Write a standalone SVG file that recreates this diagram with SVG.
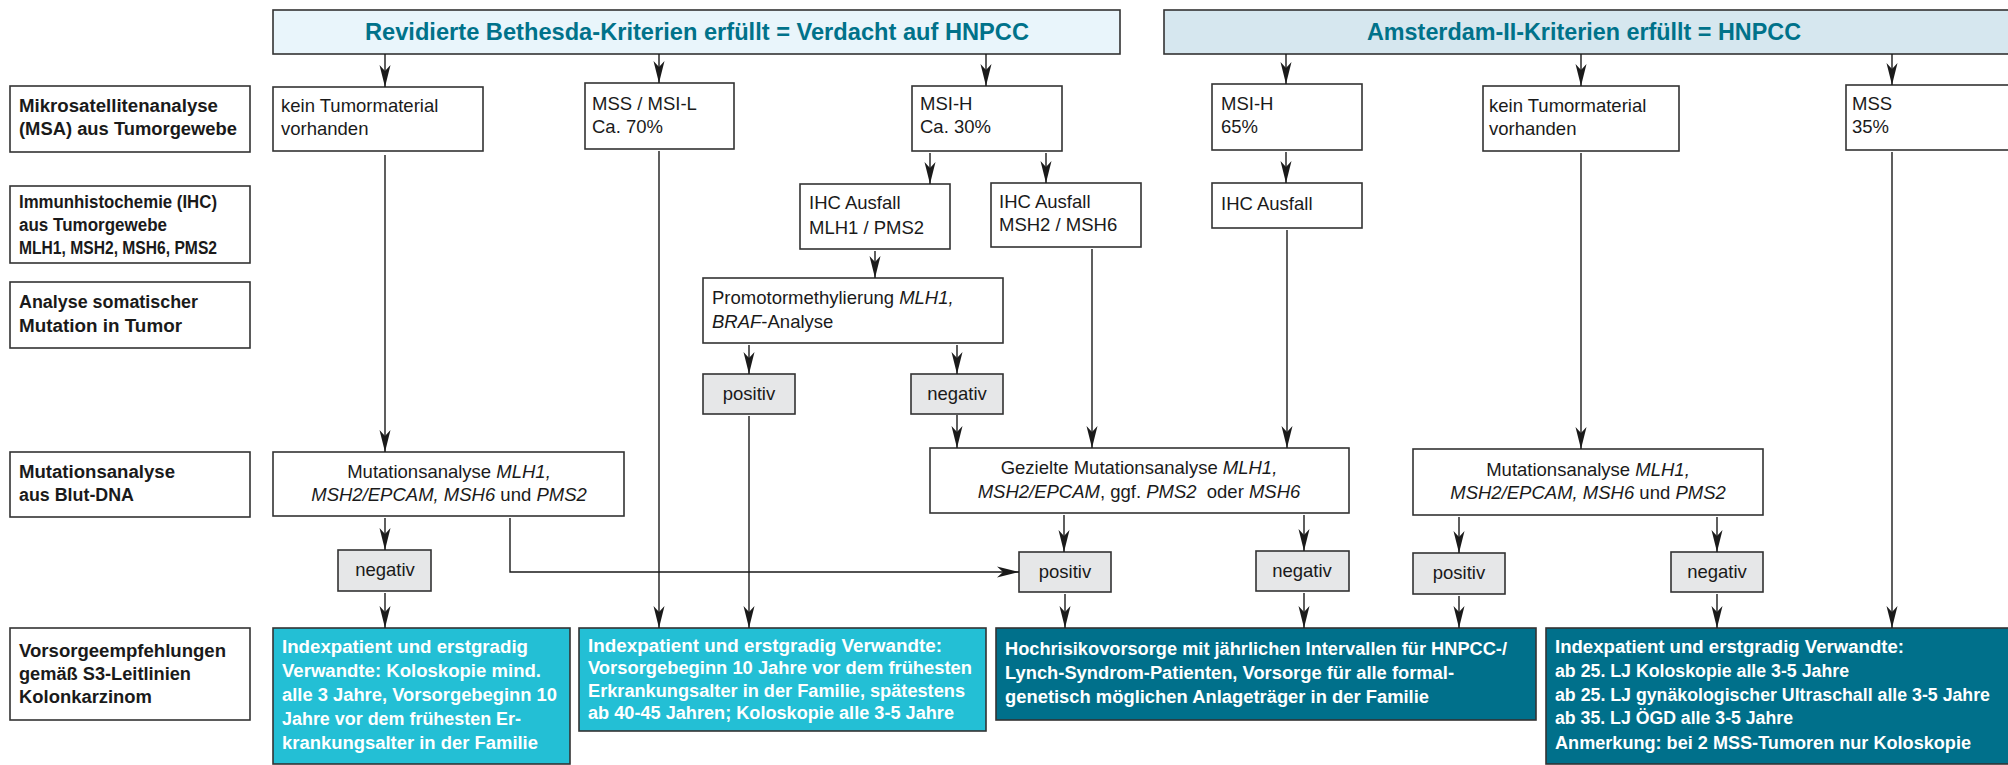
<svg xmlns="http://www.w3.org/2000/svg" width="2008" height="765" viewBox="0 0 2008 765">
<style>
.bx{fill:#fff;stroke:#333;stroke-width:1.6}
.gb{fill:#e6e7e8;stroke:#333;stroke-width:1.6}
.cy{fill:#23bfd5;stroke:#333;stroke-width:1.6}
.tl{fill:#00708b;stroke:#333;stroke-width:1.6}
.h1{fill:#e9f5fb;stroke:#333;stroke-width:1.6}
.h2{fill:#d6e7ef;stroke:#333;stroke-width:1.6}
text{font-family:"Liberation Sans",Arial,sans-serif;font-size:18.5px;fill:#1a1a1a}
.b{font-weight:bold;font-size:18px}
.w{fill:#fff;font-weight:bold;font-size:18px}
.ht{fill:#00728a;font-weight:bold;font-size:24px}
.i{font-style:italic}
.c{text-anchor:middle}
#conn line,#conn path{stroke:#1a1a1a;stroke-width:1.4;fill:none;marker-end:url(#ah)}
</style>
<defs>
<marker id="ah" markerUnits="userSpaceOnUse" markerWidth="24" markerHeight="12" refX="22" refY="6" orient="auto">
<path d="M0,0.5 L22,6 L0,11.5 L6,6 Z" fill="#1a1a1a"/>
</marker>
</defs>
<rect width="2008" height="765" fill="#fff"/>

<g id="header1"><rect class="h1" x="273" y="10" width="847" height="44"/>
<text class="ht" x="365" y="40" textLength="664" lengthAdjust="spacingAndGlyphs">Revidierte Bethesda-Kriterien erfüllt = Verdacht auf HNPCC</text></g>
<g id="header2"><rect class="h2" x="1164" y="10" width="860" height="44"/>
<text class="ht" x="1367" y="40" textLength="434" lengthAdjust="spacingAndGlyphs">Amsterdam-II-Kriterien erfüllt = HNPCC</text></g>

<g id="label1"><rect class="bx" x="10" y="86" width="240" height="66"/>
<text class="b" x="19" y="112" textLength="199" lengthAdjust="spacingAndGlyphs">Mikrosatellitenanalyse</text>
<text class="b" x="19" y="135" textLength="218" lengthAdjust="spacingAndGlyphs">(MSA) aus Tumorgewebe</text></g>
<g id="label2"><rect class="bx" x="10" y="186" width="240" height="77"/>
<text class="b" x="19" y="208" textLength="198" lengthAdjust="spacingAndGlyphs">Immunhistochemie (IHC)</text>
<text class="b" x="19" y="231" textLength="148" lengthAdjust="spacingAndGlyphs">aus Tumorgewebe</text>
<text class="b" x="19" y="254" textLength="198" lengthAdjust="spacingAndGlyphs">MLH1, MSH2, MSH6, PMS2</text></g>
<g id="label3"><rect class="bx" x="10" y="282" width="240" height="66"/>
<text class="b" x="19" y="308" textLength="179" lengthAdjust="spacingAndGlyphs">Analyse somatischer</text>
<text class="b" x="19" y="332" textLength="163" lengthAdjust="spacingAndGlyphs">Mutation in Tumor</text></g>
<g id="label4"><rect class="bx" x="10" y="452" width="240" height="65"/>
<text class="b" x="19" y="478" textLength="156" lengthAdjust="spacingAndGlyphs">Mutationsanalyse</text>
<text class="b" x="19" y="501" textLength="115" lengthAdjust="spacingAndGlyphs">aus Blut-DNA</text></g>
<g id="label5"><rect class="bx" x="10" y="628" width="240" height="92"/>
<text class="b" x="19" y="657" textLength="207" lengthAdjust="spacingAndGlyphs">Vorsorgeempfehlungen</text>
<text class="b" x="19" y="680" textLength="172" lengthAdjust="spacingAndGlyphs">gemäß S3-Leitlinien</text>
<text class="b" x="19" y="703" textLength="133" lengthAdjust="spacingAndGlyphs">Kolonkarzinom</text></g>

<g id="kein1"><rect class="bx" x="273" y="87" width="210" height="64"/>
<text x="281" y="112">kein Tumormaterial</text><text x="281" y="135">vorhanden</text></g>
<g id="mss1"><rect class="bx" x="585" y="83" width="149" height="66"/>
<text x="592" y="110">MSS / MSI-L</text><text x="592" y="133">Ca. 70%</text></g>
<g id="msih1"><rect class="bx" x="912" y="86" width="150" height="65"/>
<text x="920" y="110">MSI-H</text><text x="920" y="133">Ca. 30%</text></g>
<g id="msih2"><rect class="bx" x="1212" y="84" width="150" height="66"/>
<text x="1221" y="110">MSI-H</text><text x="1221" y="133">65%</text></g>
<g id="kein2"><rect class="bx" x="1483" y="86" width="196" height="65"/>
<text x="1489" y="112">kein Tumormaterial</text><text x="1489" y="135">vorhanden</text></g>
<g id="mss2"><rect class="bx" x="1846" y="85" width="180" height="65"/>
<text x="1852" y="110">MSS</text><text x="1852" y="133">35%</text></g>

<g id="ihc1"><rect class="bx" x="800" y="184" width="150" height="65"/>
<text x="809" y="209">IHC Ausfall</text><text x="809" y="234">MLH1 / PMS2</text></g>
<g id="ihc2"><rect class="bx" x="991" y="183" width="150" height="64"/>
<text x="999" y="208">IHC Ausfall</text><text x="999" y="231">MSH2 / MSH6</text></g>
<g id="ihc3"><rect class="bx" x="1212" y="183" width="150" height="45"/>
<text x="1221" y="210">IHC Ausfall</text></g>

<g id="promotor"><rect class="bx" x="703" y="278" width="300" height="65"/>
<text x="712" y="304">Promotormethylierung<tspan class="i"> MLH1,</tspan></text>
<text x="712" y="328"><tspan class="i">BRAF</tspan>-Analyse</text></g>
<g id="pos1"><rect class="gb" x="703" y="374" width="92" height="40"/>
<text class="c" x="749" y="400">positiv</text></g>
<g id="neg1"><rect class="gb" x="911" y="374" width="92" height="40"/>
<text class="c" x="957" y="400">negativ</text></g>

<g id="mut1"><rect class="bx" x="273" y="452" width="351" height="64"/>
<text class="c" x="449" y="478">Mutationsanalyse <tspan class="i">MLH1,</tspan></text>
<text class="c" x="449" y="501"><tspan class="i">MSH2/EPCAM, MSH6</tspan> und <tspan class="i">PMS2</tspan></text></g>
<g id="mut2"><rect class="bx" x="930" y="448" width="419" height="65"/>
<text class="c" x="1139" y="474">Gezielte Mutationsanalyse <tspan class="i">MLH1,</tspan></text>
<text class="c" x="1139" y="498"><tspan class="i">MSH2/EPCAM</tspan>, ggf. <tspan class="i">PMS2</tspan><tspan dx="5"> oder </tspan><tspan class="i">MSH6</tspan></text></g>
<g id="mut3"><rect class="bx" x="1413" y="449" width="350" height="66"/>
<text class="c" x="1588" y="476">Mutationsanalyse <tspan class="i">MLH1,</tspan></text>
<text class="c" x="1588" y="499"><tspan class="i">MSH2/EPCAM, MSH6</tspan> und <tspan class="i">PMS2</tspan></text></g>

<g id="neg2"><rect class="gb" x="338" y="550" width="93" height="41"/>
<text class="c" x="385" y="576">negativ</text></g>
<g id="pos2"><rect class="gb" x="1019" y="552" width="92" height="40"/>
<text class="c" x="1065" y="578">positiv</text></g>
<g id="neg3"><rect class="gb" x="1256" y="551" width="93" height="40"/>
<text class="c" x="1302" y="577">negativ</text></g>
<g id="pos3"><rect class="gb" x="1413" y="553" width="92" height="41"/>
<text class="c" x="1459" y="579">positiv</text></g>
<g id="neg4"><rect class="gb" x="1671" y="552" width="92" height="40"/>
<text class="c" x="1717" y="578">negativ</text></g>

<g id="recA"><rect class="cy" x="273" y="628" width="297" height="136"/>
<text class="w" x="282" y="653" textLength="246" lengthAdjust="spacingAndGlyphs">Indexpatient und erstgradig</text>
<text class="w" x="282" y="677" textLength="259" lengthAdjust="spacingAndGlyphs">Verwandte: Koloskopie mind.</text>
<text class="w" x="282" y="701" textLength="275" lengthAdjust="spacingAndGlyphs">alle 3 Jahre, Vorsorgebeginn 10</text>
<text class="w" x="282" y="725" textLength="239" lengthAdjust="spacingAndGlyphs">Jahre vor dem frühesten Er-</text>
<text class="w" x="282" y="749" textLength="256" lengthAdjust="spacingAndGlyphs">krankungsalter in der Familie</text></g>
<g id="recB"><rect class="cy" x="579" y="628" width="407" height="103"/>
<text class="w" x="588" y="652" textLength="354" lengthAdjust="spacingAndGlyphs">Indexpatient und erstgradig Verwandte:</text>
<text class="w" x="588" y="674" textLength="384" lengthAdjust="spacingAndGlyphs">Vorsorgebeginn 10 Jahre vor dem frühesten</text>
<text class="w" x="588" y="697" textLength="377" lengthAdjust="spacingAndGlyphs">Erkrankungsalter in der Familie, spätestens</text>
<text class="w" x="588" y="719" textLength="366" lengthAdjust="spacingAndGlyphs">ab 40-45 Jahren; Koloskopie alle 3-5 Jahre</text></g>
<g id="recC"><rect class="tl" x="996" y="628" width="540" height="92"/>
<text class="w" x="1005" y="655" textLength="502" lengthAdjust="spacingAndGlyphs">Hochrisikovorsorge mit jährlichen Intervallen für HNPCC-/</text>
<text class="w" x="1005" y="679" textLength="449" lengthAdjust="spacingAndGlyphs">Lynch-Syndrom-Patienten, Vorsorge für alle formal-</text>
<text class="w" x="1005" y="703" textLength="424" lengthAdjust="spacingAndGlyphs">genetisch möglichen Anlageträger in der Familie</text></g>
<g id="recD"><rect class="tl" x="1546" y="628" width="480" height="136"/>
<text class="w" x="1555" y="653" textLength="349" lengthAdjust="spacingAndGlyphs">Indexpatient und erstgradig Verwandte:</text>
<text class="w" x="1555" y="677" textLength="294" lengthAdjust="spacingAndGlyphs">ab 25. LJ Koloskopie alle 3-5 Jahre</text>
<text class="w" x="1555" y="701" textLength="435" lengthAdjust="spacingAndGlyphs">ab 25. LJ gynäkologischer Ultraschall alle 3-5 Jahre</text>
<text class="w" x="1555" y="724" textLength="238" lengthAdjust="spacingAndGlyphs">ab 35. LJ ÖGD alle 3-5 Jahre</text>
<text class="w" x="1555" y="749" textLength="416" lengthAdjust="spacingAndGlyphs">Anmerkung: bei 2 MSS-Tumoren nur Koloskopie</text></g>

<g id="conn">
<line x1="385" y1="54" x2="385" y2="87"/>
<line x1="659" y1="54" x2="659" y2="83"/>
<line x1="986" y1="54" x2="986" y2="86"/>
<line x1="1286" y1="54" x2="1286" y2="84"/>
<line x1="1581" y1="54" x2="1581" y2="86"/>
<line x1="1892" y1="54" x2="1892" y2="85"/>
<line x1="385" y1="155" x2="385" y2="452"/>
<line x1="659" y1="151" x2="659" y2="628"/>
<line x1="930" y1="153" x2="930" y2="184"/>
<line x1="1046" y1="153" x2="1046" y2="183"/>
<line x1="1286" y1="152" x2="1286" y2="183"/>
<line x1="875" y1="251" x2="875" y2="278"/>
<line x1="1092" y1="249" x2="1092" y2="448"/>
<line x1="1287" y1="230" x2="1287" y2="448"/>
<line x1="1581" y1="153" x2="1581" y2="449"/>
<line x1="1892" y1="152" x2="1892" y2="628"/>
<line x1="749" y1="345" x2="749" y2="374"/>
<line x1="957" y1="345" x2="957" y2="374"/>
<line x1="749" y1="416" x2="749" y2="628"/>
<line x1="957" y1="415" x2="957" y2="448"/>
<line x1="385" y1="518" x2="385" y2="550"/>
<path d="M510,518 V572 H1019"/>
<line x1="385" y1="593" x2="385" y2="628"/>
<line x1="1064" y1="515" x2="1064" y2="552"/>
<line x1="1304" y1="515" x2="1304" y2="551"/>
<line x1="1065" y1="594" x2="1065" y2="628"/>
<line x1="1304" y1="593" x2="1304" y2="628"/>
<line x1="1459" y1="517" x2="1459" y2="553"/>
<line x1="1717" y1="517" x2="1717" y2="552"/>
<line x1="1459" y1="596" x2="1459" y2="628"/>
<line x1="1717" y1="594" x2="1717" y2="628"/>
</g>
</svg>
